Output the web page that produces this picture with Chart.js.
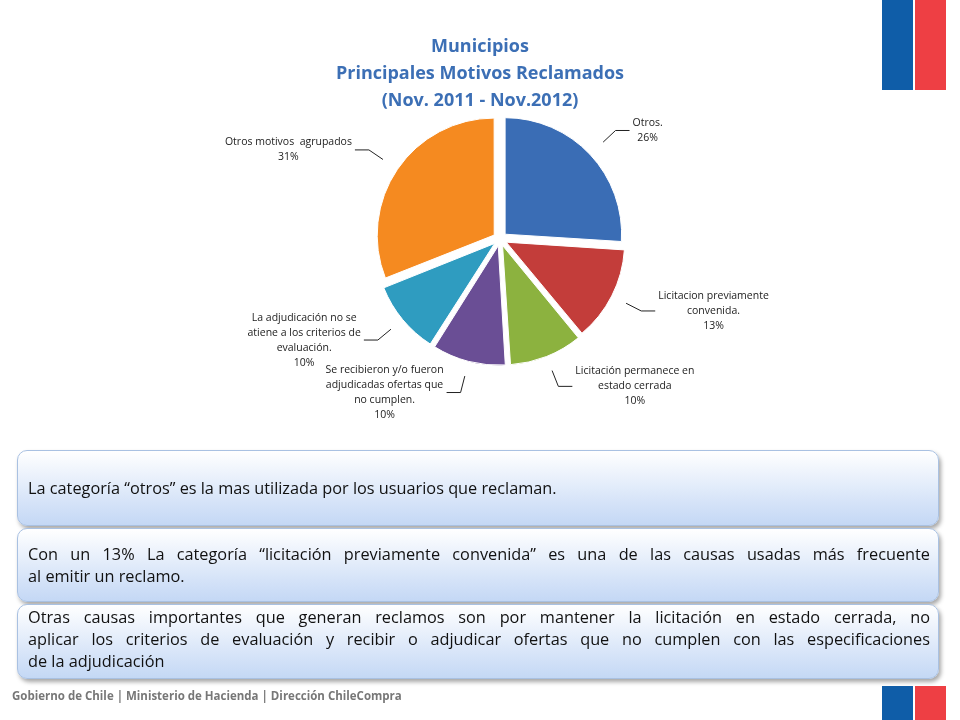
<!DOCTYPE html>
<html><head><meta charset="utf-8">
<script src="https://cdn.jsdelivr.net/npm/chart.js@4/dist/chart.umd.min.js"></script>
<style>
body{margin:0;width:960px;height:720px;position:relative;background:#fff;font-family:"Open Sans",sans-serif;overflow:hidden}
#c{position:absolute;left:0;top:0}
.title{position:absolute;left:280px;width:400px;text-align:center;color:#3C6FB5;font-weight:bold;font-size:18px;line-height:27px;top:32px}
.box{position:absolute;left:17px;width:902px;border:1px solid #A9C1E2;border-radius:10px;background:linear-gradient(#fff,#D5E3F8 70%,#C4D8F5);box-shadow:2px 3px 4px rgba(0,0,0,.35);padding:0 8px 0 10px;font-size:16.3px;color:#111;display:flex;flex-direction:column;justify-content:center;line-height:22px}
.j{text-align:justify;text-align-last:justify}
.foot{position:absolute;left:12px;top:688px;font-size:11.5px;color:#777;font-weight:bold}
.f{position:absolute}
</style></head><body>
<canvas id="c" width="960" height="450"></canvas>
<div class="title">Municipios<br>Principales Motivos Reclamados<br>(Nov. 2011 - Nov.2012)</div>
<div class="box" style="top:450px;height:74px"><div>La categoría “otros” es la mas utilizada por los usuarios que reclaman.</div></div>
<div class="box" style="top:528px;height:72px"><div class="j">Con un 13% La categoría “licitación previamente convenida” es una de las causas usadas más frecuente</div><div>al emitir un reclamo.</div></div>
<div class="box" style="top:604px;height:72px;justify-content:flex-start;padding-top:1px"><div class="j">Otras causas importantes que generan reclamos son por mantener la licitación en estado cerrada, no</div><div class="j">aplicar los criterios de evaluación y recibir o adjudicar ofertas que no cumplen con las especificaciones</div><div>de la adjudicación</div></div>
<div class="foot">Gobierno de Chile | Ministerio de Hacienda | Dirección ChileCompra</div>
<div class="f" style="left:882px;top:0;width:31px;height:90px;background:#0F5DA8"></div>
<div class="f" style="left:915px;top:0;width:31px;height:90px;background:#EE3F44"></div>
<div class="f" style="left:882px;top:686px;width:31px;height:34px;background:#0F5DA8"></div>
<div class="f" style="left:915px;top:686px;width:31px;height:34px;background:#EE3F44"></div>
<script>
const categories=[["Otros.","26%"],["Licitacion previamente","convenida.","13%"],["Licitación permanece en","estado cerrada","10%"],["Se recibieron y/o fueron","adjudicadas ofertas que","no cumplen.","10%"],["La adjudicación no se","atiene a los criterios de","evaluación.","10%"],["Otros motivos  agrupados","31%"]];
const values=[26,13,10,10,10,31];
const colors=["#3A6DB5","#C33D3A","#8CB23F","#6A4E95","#2F9CC0","#F58A20"];
const OFF=28;
const labelPlugin={id:'lbl',afterDraw(ch){const ctx=ch.ctx;const arcs=ch.getDatasetMeta(0).data;
ctx.save();ctx.font='10.5px "Open Sans", sans-serif';ctx.fillStyle='#222';ctx.strokeStyle='#222';ctx.lineWidth=1;
arcs.forEach((a,i)=>{const mid=(a.startAngle+a.endAngle)/2;
const cx=a.x+Math.cos(mid)*OFF,cy=a.y+Math.sin(mid)*OFF;const r=a.outerRadius;
const p0=[cx+Math.cos(mid)*(r-3),cy+Math.sin(mid)*(r-3)];const p1=[cx+Math.cos(mid)*(r+14),cy+Math.sin(mid)*(r+14)];
const right=Math.cos(mid)>=0;const p2=[p1[0]+(right?14:-14),p1[1]];
ctx.beginPath();ctx.moveTo(...p0);ctx.lineTo(...p1);ctx.lineTo(...p2);ctx.stroke();
const lines=categories[i];const lh=15;let y=p2[1]-(lines.length-1)*lh/2;
const w=Math.max(...lines.map(l=>ctx.measureText(l).width));
const xc=right?p2[0]+3+w/2:p2[0]-3-w/2;ctx.textAlign='center';ctx.textBaseline='middle';
lines.forEach(l=>{ctx.fillText(l,xc,y);y+=lh;});});ctx.restore();}};
new Chart(document.getElementById('c'),{type:'pie',data:{labels:categories.map(c=>c[0]),datasets:[{data:values,
backgroundColor:colors,borderColor:'#fff',borderWidth:1,offset:OFF}]},
options:{responsive:false,animation:false,rotation:0,layout:{padding:{left:300,right:260,top:108,bottom:80}},
plugins:{legend:{display:false},tooltip:{enabled:false}}},plugins:[labelPlugin]});
</script></body></html>
